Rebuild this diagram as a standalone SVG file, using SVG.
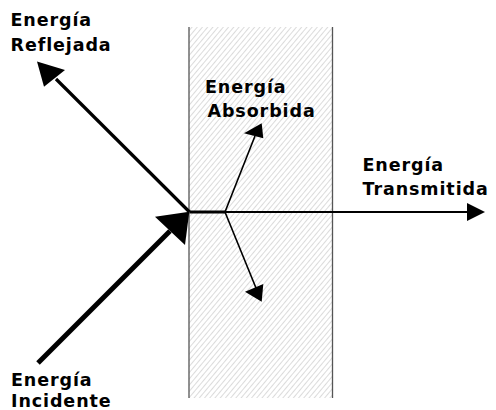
<svg xmlns="http://www.w3.org/2000/svg" width="496" height="410" viewBox="0 0 496 410">
<style>
.lbl{font-family:"DejaVu Sans","Verdana",sans-serif;font-weight:bold;font-size:17.5px;letter-spacing:0.9px;fill:#000}
.edge{stroke:#555;stroke-width:1.3;fill:none}
.ln{stroke:#000;fill:none;stroke-linecap:butt}
.head{fill:#000;stroke:none}
</style>
<defs>
<pattern id="hatch" patternUnits="userSpaceOnUse" width="4" height="4" patternTransform="rotate(40)">
<line x1="0" y1="0" x2="0" y2="4" stroke="#b8b8b8" stroke-width="1"/>
</pattern>
</defs>
<g id="slab">
<rect x="189" y="27" width="143.5" height="371" fill="url(#hatch)"/>
<line class="edge" x1="189" y1="27" x2="189" y2="398"/>
<line class="edge" x1="332.5" y1="27" x2="332.5" y2="398"/>
</g>
<g id="connectors">
<line class="ln" x1="189.5" y1="212" x2="56" y2="79" stroke-width="3.2"/>
<polygon class="head" points="37,61.5 44,86.7 65,70"/>
<line class="ln" x1="38" y1="363" x2="170" y2="231" stroke-width="5"/>
<polygon class="head" points="189.3,211.7 155,216.7 185,245"/>
<line class="ln" x1="189.5" y1="212" x2="225" y2="212" stroke-width="3"/>
<line class="ln" x1="225" y1="212" x2="468" y2="212" stroke-width="1.8"/>
<polygon class="head" points="485,212 467,203 467,221"/>
<polyline class="ln" points="255,136 225,212 256,288" stroke-width="1.6" stroke-linejoin="miter"/>
<polygon class="head" points="261.7,123.3 244,133.3 263.3,138.3"/>
<polygon class="head" points="261.7,301.7 245,291.7 263.3,284"/>
</g>
<g id="reflejada">
<text class="lbl" x="10.5" y="26">Energía</text>
<text class="lbl" x="10.5" y="51">Reflejada</text>
</g>
<g id="absorbida">
<text class="lbl" x="205" y="92.7">Energía</text>
<text class="lbl" x="207.5" y="116.7">Absorbida</text>
</g>
<g id="transmitida">
<text class="lbl" x="362.5" y="170.7">Energía</text>
<text class="lbl" x="362.5" y="195">Transmitida</text>
</g>
<g id="incidente">
<text class="lbl" x="11" y="386">Energía</text>
<text class="lbl" x="11" y="407">Incidente</text>
</g>
</svg>
